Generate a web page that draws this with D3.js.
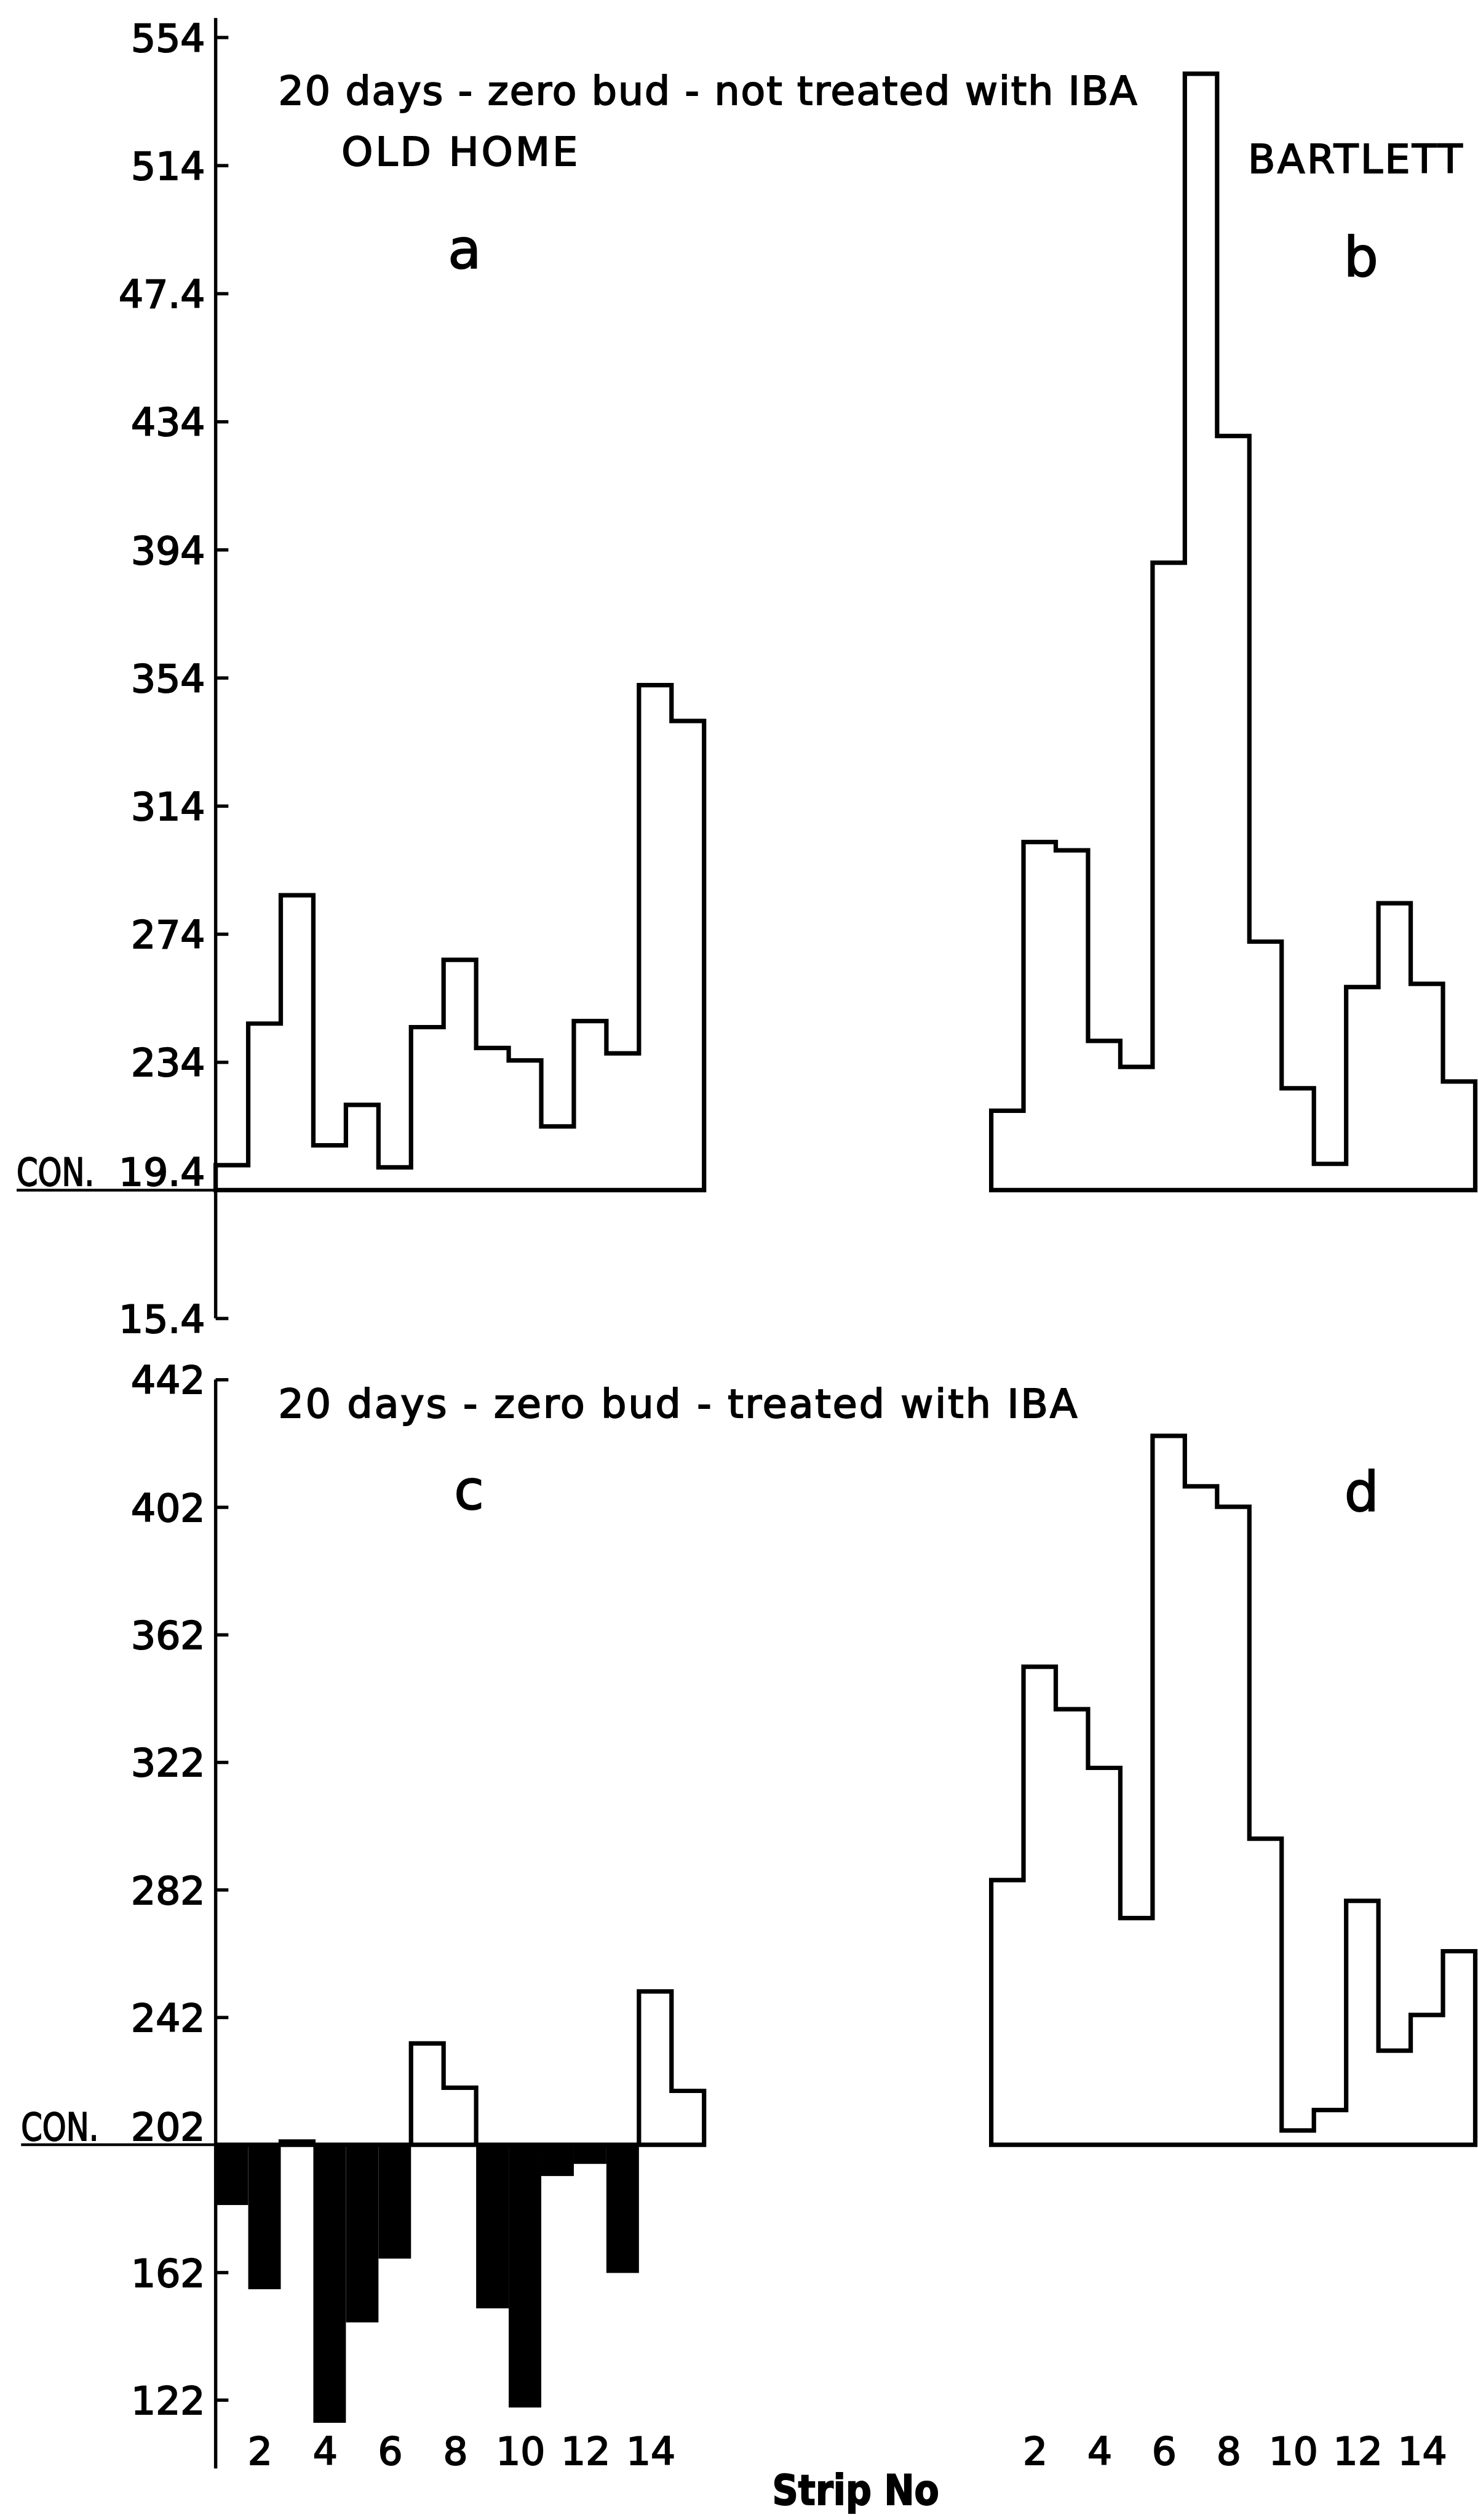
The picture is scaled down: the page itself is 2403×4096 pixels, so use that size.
<!DOCTYPE html>
<html><head><meta charset="utf-8">
<script src="https://cdn.jsdelivr.net/npm/d3@7"></script>
<style>html,body{margin:0;padding:0;background:#fff;} svg{display:block} text{stroke:#000;stroke-width:2.2px;}</style>
</head><body>
<script>
// ---------- data ----------
const strips = [1,2,3,4,5,6,7,8,9,10,11,12,13,14,15];
const stripTickLabels = [2,4,6,8,10,12,14];
const oldHomeUntreated  = [201.8,246.0,286.1,208.0,220.6,201.1,244.9,265.9,238.4,234.5,213.9,246.8,236.7,351.7,340.5];
const bartlettUntreated = [218.8,302.7,300.1,240.6,232.5,389.9,542.6,429.5,271.6,225.8,202.2,257.4,283.6,258.4,227.9];
const oldHomeTreated    = [183.1,156.7,203.0,114.8,146.3,166.3,233.8,219.9,150.7,119.6,192.2,196.0,161.8,250.1,218.9];
const bartlettTreated   = [285.0,351.9,338.6,320.2,273.1,424.3,408.5,402.1,298.0,206.5,212.9,278.5,231.5,242.7,262.7];
const topTickValues = [554,514,474,434,394,354,314,274,234,194,154];
const topTickLabels = ["554","514","47.4","434","394","354","314","274","234","19.4","15.4"];
const bottomTickValues = [442,402,362,322,282,242,202,162,122];
const bottomTickLabels = ["442","402","362","322","282","242","202","162","122"];
const controlTop = 194;
const controlBottom = 202;
const titleTop = "20 days - zero bud - not treated with IBA";
const titleBottom = "20 days - zero bud - treated with IBA";

// ---------- layout (reference pixel space, scaled by viewBox) ----------
const W = 2666, H = 4544;
const FONT = "'DejaVu Sans', sans-serif";
const svg = d3.select("body").append("svg")
  .attr("width", 2403).attr("height", 4096)
  .attr("viewBox", `0 0 ${W} ${H}`);
svg.append("rect").attr("width", W).attr("height", H).attr("fill", "#fff");

const yTop = d3.scaleLinear().domain([154, 554]).range([2377, 67]);
const yBot = d3.scaleLinear().domain([122, 442]).range([4327.5, 2487.5]);
const xLeft = d3.scaleBand().domain(strips).range([389, 1270]);
const xRight = d3.scaleBand().domain(strips).range([1788, 2661]);
const axisX = xLeft.range()[0];

function stepPoints(x, y, vals, base) {
  const pts = [[x.range()[0], y(base)]];
  vals.forEach((v, i) => {
    const t = Math.max(v, base);
    pts.push([x(strips[i]), y(t)]);
    pts.push([x(strips[i]) + x.bandwidth(), y(t)]);
  });
  pts.push([x.range()[1], y(base)]);
  return pts;
}
const line = d3.line();

function drawHist(x, y, vals, base) {
  svg.append("path")
    .attr("d", line(stepPoints(x, y, vals, base)) + "Z")
    .attr("fill", "none").attr("stroke", "#000")
    .attr("stroke-width", 8).attr("stroke-linejoin", "miter");
}

// ---------- panels a, b ----------
drawHist(xLeft, yTop, oldHomeUntreated, controlTop);
drawHist(xRight, yTop, bartlettUntreated, controlTop);

// ---------- panel c ----------
svg.append("g").selectAll("rect")
  .data(oldHomeTreated.map((v, i) => ({s: strips[i], v})).filter(d => d.v < controlBottom))
  .join("rect")
  .attr("x", d => xLeft(d.s))
  .attr("width", xLeft.bandwidth())
  .attr("y", yBot(controlBottom))
  .attr("height", d => yBot(d.v) - yBot(controlBottom))
  .attr("fill", "#000");
drawHist(xLeft, yBot, oldHomeTreated, controlBottom);

// ---------- panel d ----------
drawHist(xRight, yBot, bartlettTreated, controlBottom);

// ---------- axes ----------
function drawAxis(y, vals, labels, ctrl, lineFrom, lineTo) {
  const g = svg.append("g").attr("transform", `translate(${axisX},0)`)
    .call(d3.axisLeft(y).tickValues(vals)
      .tickFormat((d, i) => labels[i])
      .tickSizeInner(-23).tickSizeOuter(0).tickPadding(19));
  g.select(".domain").remove();
  g.selectAll(".tick line").attr("stroke", "#000").attr("stroke-width", 6);
  g.selectAll(".tick text")
    .attr("font-family", FONT).attr("font-size", 70).attr("fill", "#000")
    .attr("dy", d => d === ctrl ? "-0.12em" : "0.36em");
  svg.append("line")
    .attr("x1", axisX).attr("x2", axisX)
    .attr("y1", y(lineFrom)).attr("y2", y(lineTo))
    .attr("stroke", "#000").attr("stroke-width", 6);
  return g;
}
drawAxis(yTop, topTickValues, topTickLabels, controlTop, 560, 154);
drawAxis(yBot, bottomTickValues, bottomTickLabels, controlBottom, 442, 100.5);

// CON. labels with underline
function conLabel(y, ctrl, x0) {
  svg.append("line").attr("x1", x0).attr("x2", axisX)
    .attr("y1", y(ctrl)).attr("y2", y(ctrl))
    .attr("stroke", "#000").attr("stroke-width", 5);
  svg.append("text").attr("x", x0).attr("y", y(ctrl) - 8)
    .attr("font-family", FONT).attr("font-size", 70)
    .attr("textLength", 140).attr("lengthAdjust", "spacingAndGlyphs")
    .text("CON.");
}
conLabel(yTop, controlTop, 30);
conLabel(yBot, controlBottom, 38);

// x tick labels (strip numbers)
[xLeft, xRight].forEach(x => {
  svg.append("g").selectAll("text").data(stripTickLabels).join("text")
    .attr("x", d => x(d) + x.bandwidth() / 2 - 8)
    .attr("y", 4444)
    .attr("text-anchor", "middle")
    .attr("font-family", FONT).attr("font-size", 70)
    .text(d => d);
});

// ---------- texts ----------
function txt(x, y, s, size, opts = {}) {
  const t = svg.append("text").attr("x", x).attr("y", y)
    .attr("font-family", FONT).attr("font-size", size).attr("fill", "#000")
    .attr("text-anchor", opts.anchor || "start")
    .attr("font-weight", opts.weight || "normal")
    .text(s);
  if (opts.len) t.attr("textLength", opts.len).attr("lengthAdjust", opts.adj || "spacing");
  return t;
}
txt(502, 189, titleTop, 72, {len: 1549});
txt(616, 298, "OLD HOME", 72, {len: 426});
txt(2251, 312, "BARTLETT", 72, {len: 387});
txt(838, 484, "a", 98, {anchor: "middle"});
txt(2455, 498, "b", 98, {anchor: "middle"});
txt(502, 2556, titleBottom, 72, {len: 1441});
txt(846, 2721, "c", 98, {anchor: "middle"});
txt(2456, 2725, "d", 98, {anchor: "middle"});
txt(1393, 4516, "Strip No", 76, {len: 301, adj: "spacingAndGlyphs", weight: "bold"});
</script>
</body></html>
